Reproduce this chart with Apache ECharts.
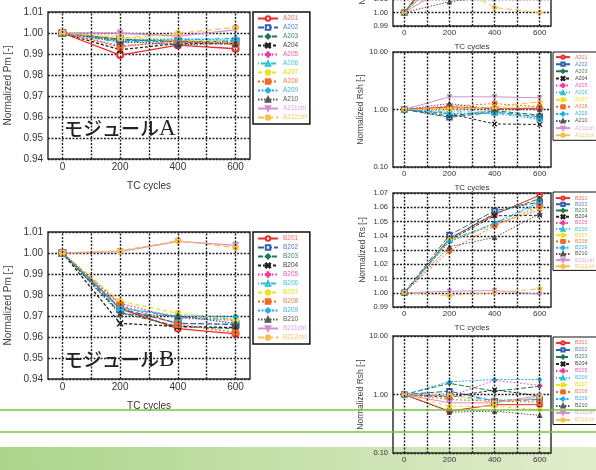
<!DOCTYPE html>
<html><head><meta charset="utf-8">
<script src="https://cdn.jsdelivr.net/npm/echarts@6/dist/echarts.min.js"></script>
<style>html,body{margin:0;padding:0;background:#fff}#c{width:596px;height:470px}</style>
</head><body><div id="c"></div>
<script>
// ---------- data ----------
const cycles = [0, 200, 400, 600];
const xTickLabels = ['0', '200', '400', '600'];
const namesA = ['A201','A202','A203','A204','A205','A206','A207','A208','A209','A210','A211ctrl','A212ctrl'];
const namesB = ['B201','B202','B203','B204','B205','B206','B207','B208','B209','B210','B211ctrl','B212ctrl'];

// Normalized Pm, module A
const pmA = [
  [1.000, 0.9895, 0.9942, 0.9925],
  [1.000, 0.9970, 0.9960, 0.9960],
  [1.000, 0.9968, 0.9958, 0.9955],
  [1.000, 0.9920, 0.9950, 0.9950],
  [1.000, 0.9940, 0.9955, 0.9952],
  [1.000, 0.9955, 0.9968, 0.9975],
  [1.000, 0.9980, 0.9965, 0.9955],
  [1.000, 0.9933, 0.9965, 0.9945],
  [1.000, 0.9965, 0.9972, 0.9965],
  [1.000, 0.9960, 0.9945, 0.9950],
  [1.000, 1.0000, 0.9985, 1.0015],
  [1.000, 0.9975, 0.9998, 1.0027]
];
// Normalized Pm, module B
const pmB = [
  [1.000, 0.9735, 0.9640, 0.9615],
  [1.000, 0.9735, 0.9665, 0.9660],
  [1.000, 0.9717, 0.9650, 0.9640],
  [1.000, 0.9665, 0.9650, 0.9645],
  [1.000, 0.9760, 0.9690, 0.9680],
  [1.000, 0.9740, 0.9695, 0.9685],
  [1.000, 0.9770, 0.9713, 0.9682],
  [1.000, 0.9752, 0.9660, 0.9622],
  [1.000, 0.9738, 0.9700, 0.9697],
  [1.000, 0.9710, 0.9700, 0.9665],
  [1.000, 1.0007, 1.0055, 1.0036],
  [1.000, 1.0010, 1.0058, 1.0026]
];
// Normalized Rs, module A (mostly cut off at top of picture)
const rsA = [
  [1.000, 1.045, 1.058, 1.066],
  [1.000, 1.042, 1.056, 1.063],
  [1.000, 1.040, 1.055, 1.064],
  [1.000, 1.038, 1.052, 1.060],
  [1.000, 1.041, 1.050, 1.059],
  [1.000, 1.036, 1.048, 1.061],
  [1.000, 1.037, 1.047, 1.058],
  [1.000, 1.032, 1.046, 1.060],
  [1.000, 1.030, 1.010, 1.050],
  [1.000, 1.008, 1.012, 1.020],
  [1.000, 1.020, 1.018, 1.009],
  [1.000, 1.022, 1.0037, 1.000]
];
// Normalized Rsh, module A
const rshA = [
  [1, 1.11, 1.05, 1.05],
  [1, 0.73, 0.90, 0.75],
  [1, 0.77, 0.95, 0.80],
  [1, 0.85, 0.56, 0.55],
  [1, 1.05, 1.00, 1.00],
  [1, 0.91, 0.90, 0.70],
  [1, 1.00, 1.05, 1.10],
  [1, 1.14, 1.27, 1.11],
  [1, 0.85, 0.85, 0.68],
  [1, 1.27, 1.00, 1.00],
  [1, 1.66, 1.66, 1.60],
  [1, 1.05, 1.10, 1.36]
];
// Normalized Rs, module B
const rsB = [
  [1.000, 1.0380, 1.0550, 1.0684],
  [1.000, 1.0405, 1.0575, 1.0637],
  [1.000, 1.0380, 1.0556, 1.0660],
  [1.000, 1.0370, 1.0540, 1.0544],
  [1.000, 1.0360, 1.0480, 1.0580],
  [1.000, 1.0370, 1.0486, 1.0626],
  [1.000, 1.0370, 1.0470, 1.0595],
  [1.000, 1.0295, 1.0470, 1.0610],
  [1.000, 1.0358, 1.0490, 1.0637],
  [1.000, 1.0323, 1.0388, 1.0555],
  [1.000, 1.0010, 1.0016, 0.9990],
  [1.000, 0.9980, 1.0000, 1.0028]
];
// Normalized Rsh, module B
const rshB = [
  [1, 0.52, 0.67, 0.67],
  [1, 1.14, 0.77, 0.82],
  [1, 1.55, 1.14, 1.38],
  [1, 0.90, 1.20, 0.95],
  [1, 0.93, 1.75, 1.43],
  [1, 0.95, 0.80, 0.84],
  [1, 0.63, 0.63, 0.55],
  [1, 0.82, 0.77, 0.74],
  [1, 1.65, 1.80, 1.80],
  [1, 0.50, 0.52, 0.44],
  [1, 0.72, 0.72, 0.96],
  [1, 1.00, 0.72, 0.90]
];

// ---------- styles ----------
const colors = ['#ee2a2a','#2f5fae','#1e7a4c','#222222','#f03ca0','#2ec0da','#f2e01a','#f26a24','#1fb0ec','#555555','#d38fce','#f8c04c'];
const legendColors = ['#f06a6a','#5a7cc4','#3f8a64','#444444','#f05ab0','#48c4e0','#e8dc10','#f0845a','#3ab4e6','#555555','#e0a8e0','#f5c870'];
const XSYM = 'path://M0,1L1,0L5,4L9,0L10,1L6,5L10,9L9,10L5,6L1,10L0,9L4,5Z';
const PSYM = 'path://M4,0H6V4H10V6H6V10H4V6H0V4H4Z';
const TDOWN = 'path://M0,0L10,0L5,9Z';
const symbols = ['emptyCircle','emptyRect','diamond',XSYM,PSYM,'emptyTriangle','circle','rect','diamond','triangle',TDOWN,'circle'];
const dashes = ['solid',[6,2],[5,2],[3,2],[1.5,2],[1,2,5,2],[4,3],[2,2],[2,1.5],[1.5,1.5],'solid',[6,3]];
const font = '"Liberation Sans", Arial, sans-serif';
const gridLine = {color:'#222', type:[2,1.5], width:1.4};

const panels = [
  {names:namesA, values:pmA, grid:{left:48, top:12, width:202, height:147}, y:{type:'value',min:0.94,max:1.01,interval:0.01}, yName:'Normalized Pm [-]', big:true,
   legend:{left:253, top:12, padding:[3,3,3,4], itemGap:2}},
  {names:namesB, values:pmB, grid:{left:48, top:232, width:202, height:147}, y:{type:'value',min:0.94,max:1.01,interval:0.01}, yName:'Normalized Pm [-]', big:true,
   legend:{left:253, top:232, padding:[3,3,3,4], itemGap:2}},
  {names:namesA, values:rsA, grid:{left:393, top:-82, width:158, height:108}, y:{type:'value',min:0.99,max:1.07,interval:0.01}, yName:'Normalized Rs [-]', big:false, legend:null},
  {names:namesA, values:rshA, grid:{left:393, top:52, width:158, height:115}, y:{type:'log',min:0.1,max:10,logBase:10}, yName:'Normalized Rsh [-]', big:false,
   legend:{left:553, top:52, padding:[2.5,8,2.5,2], itemGap:1.9}},
  {names:namesB, values:rsB, grid:{left:393, top:193, width:158, height:114}, y:{type:'value',min:0.99,max:1.07,interval:0.01}, yName:'Normalized Rs [-]', big:false,
   legend:{left:553, top:192, padding:[3.5,8,1.5,2], itemGap:1}},
  {names:namesB, values:rshB, grid:{left:393, top:336, width:158, height:117}, y:{type:'log',min:0.1,max:10,logBase:10}, yName:'Normalized Rsh [-]', big:false,
   legend:{left:553, top:337, padding:[3.3,8,2,2], itemGap:1.8}}
];

const grids = [], xAxes = [], yAxes = [], series = [], legends = [];
panels.forEach((p, k) => {
  grids.push(Object.assign({show:true, borderColor:'#333', borderWidth:1.5, backgroundColor:'transparent', containLabel:false, outerBoundsMode:'none'}, p.grid));
  xAxes.push({
    gridIndex:k, type:'value', min:-50, max:650, interval:50,
    axisLine:{show:false}, axisTick:{show:false}, splitLine:{show:false},
    axisLabel:{fontSize:p.big?10:8, color:'#333', margin:3, fontFamily:font,
      formatter:v => { const i = cycles.indexOf(v); return i >= 0 ? xTickLabels[i] : ''; }},
    name:'TC cycles', nameLocation:'middle', nameGap:p.big?22:17,
    nameTextStyle:{fontSize:p.big?10:8, color:'#333', fontFamily:font}
  });
  yAxes.push(Object.assign({
    gridIndex:k,
    axisLine:{show:false}, axisTick:{show:false},
    splitLine:{show:true, lineStyle:gridLine},
    axisLabel:{fontSize:p.big?10:7.5, color:'#333', margin:5, fontFamily:font, formatter:v => Number(v).toFixed(2)},
    name:p.yName, nameLocation:'middle', nameGap:p.big?35:26,
    nameTextStyle:{fontSize:p.big?10:8.5, color:'#444', fontFamily:font}
  }, p.y));
  p.names.forEach((n, i) => {
    const s = {
      type:'line', name:n, xAxisIndex:k, yAxisIndex:k,
      data:cycles.map((c, j) => [c, p.values[i][j]]),
      symbol:symbols[i], symbolSize:p.big?6:4.5,
      lineStyle:{color:colors[i], width:p.big?1.3:1, type:dashes[i]},
      itemStyle:{color:colors[i], borderColor:colors[i], borderWidth:1},
      animation:false, z:3
    };
    if (i === 0) {
      s.markLine = {
        silent:true, symbol:['none','none'], label:{show:false}, animation:false,
        lineStyle:gridLine, emphasis:{disabled:true},
        data:[0,100,200,300,400,500,600].map(v => ({xAxis:v}))
      };
    }
    series.push(s);
  });
  if (p.legend) {
    legends.push(Object.assign({
      orient:'vertical', selectedMode:false,
      itemWidth:p.big?20:14, itemHeight:p.big?5.5:4,
      borderColor:'#111', borderWidth:p.big?1.5:1, backgroundColor:'transparent',
      textStyle:{fontSize:p.big?6.5:5.3, fontFamily:font},
      data:p.names.map((n, i) => ({name:n, textStyle:{color:legendColors[i], fontSize:p.big?6.5:5.3}}))
    }, p.legend));
  }
});

const chart = echarts.init(document.getElementById('c'), null, {renderer:'canvas'});
chart.setOption({
  animation:false,
  textStyle:{fontFamily:font},
  grid:grids, xAxis:xAxes, yAxis:yAxes, series:series, legend:legends,
  graphic:[
    {type:'rect', z:-10, silent:true, shape:{x:0, y:447, width:596, height:23},
     style:{fill:{type:'linear', x:0, y:0, x2:1, y2:0, colorStops:[{offset:0, color:'#acd48c'},{offset:1, color:'#e2edcc'}]}}},
    {type:'text', left:64, top:117, z:50, silent:true,
     style:{text:'{k|モジュール}{a|A}', rich:{k:{font:'500 19px "Noto Sans CJK JP"', fill:'#222'}, a:{font:'23px "Liberation Serif"', fill:'#222'}}}},
    {type:'text', left:64, top:348, z:50, silent:true,
     style:{text:'{k|モジュール}{a|B}', rich:{k:{font:'500 19px "Noto Sans CJK JP"', fill:'#222'}, a:{font:'23px "Liberation Serif"', fill:'#222'}}}},
    {type:'line', z:100, silent:true, shape:{x1:0, y1:410, x2:596, y2:410}, style:{stroke:'#78c244', lineWidth:1.5}},
    {type:'line', z:100, silent:true, shape:{x1:0, y1:432, x2:596, y2:432}, style:{stroke:'#78c244', lineWidth:1.5}}
  ]
});
</script>
</body></html>
